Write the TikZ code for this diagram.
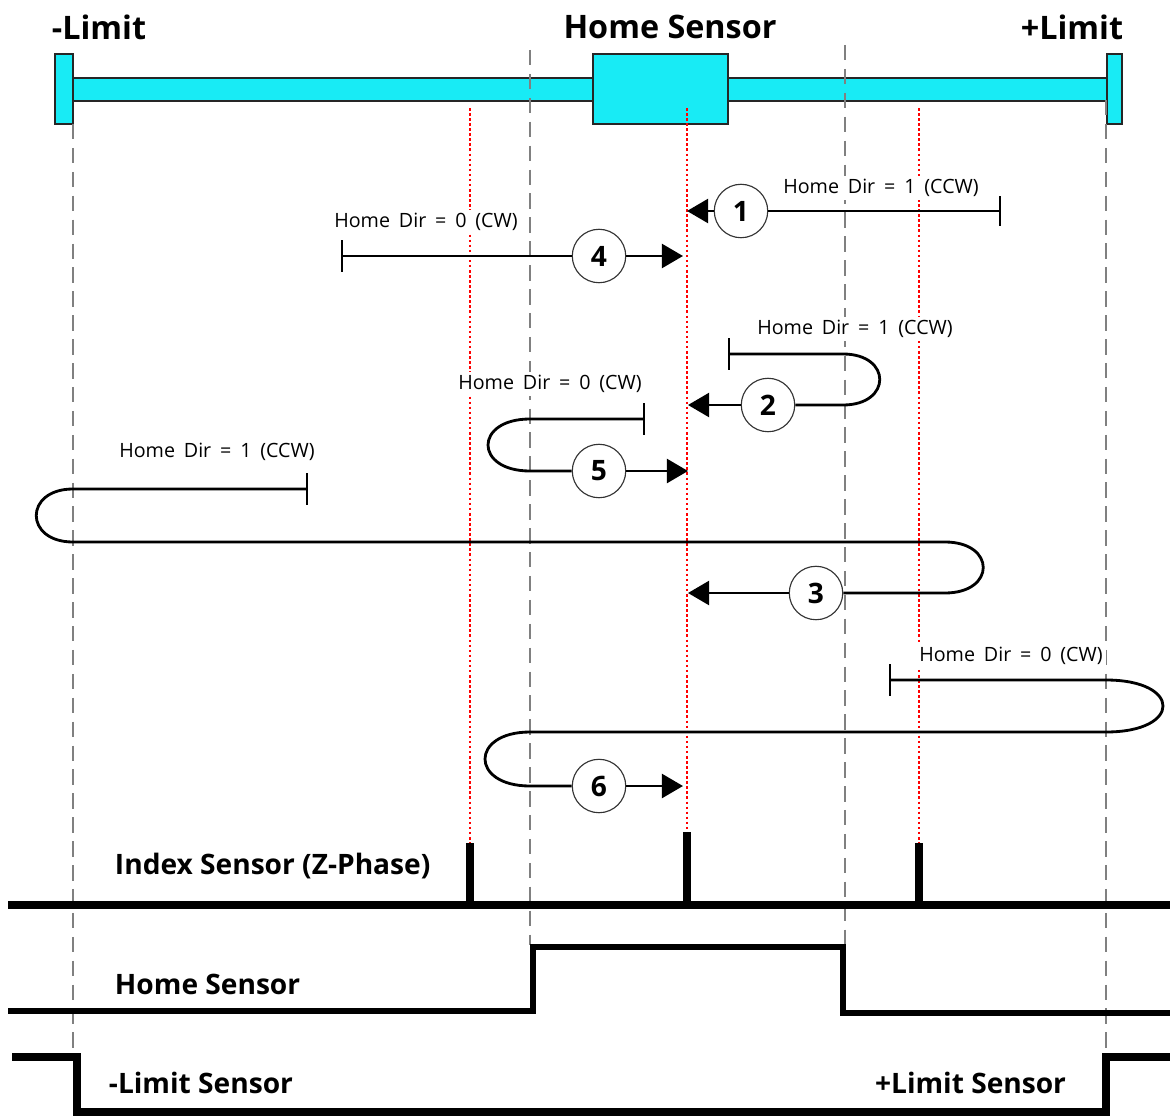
\documentclass[tikz,border=0pt]{standalone}
\usepackage{fontspec}
\setmainfont{Open Sans}
\usepackage{tikz}
\usetikzlibrary{arrows.meta, positioning}
\definecolor{ccyan}{RGB}{24,235,245}
\definecolor{cdash}{RGB}{128,128,128}
\definecolor{cdot} {RGB}{255,0,0}
\newcommand{\dirfont}{\fontsize{14}{16}\selectfont\spaceskip=0.45em\relax}
\tikzset{
  rail/.style={draw=black!85, fill=ccyan, line width=0.9pt},
  limline/.style={draw=cdash, line width=1.5pt, dash pattern=on 11pt off 6pt},
  zline/.style={draw=cdot, line width=2pt, dash pattern=on 1.8pt off 1.8pt},
  move/.style={line width=2pt},
  arr/.style={move, -{Triangle[length=15pt, width=17pt]}},
  stepno/.style={circle, draw=black!80, fill=white, line width=0.8pt,
                 minimum size=38pt, inner sep=0pt,
                 font=\fontsize{20}{20}\selectfont\bfseries},
  dirlbl/.style={fill=white, inner sep=2pt, font=\dirfont},
  titlbl/.style={font=\fontsize{23}{26}\selectfont\bfseries},
  siglbl/.style={font=\fontsize{20}{24}\selectfont\bfseries},
  sig/.style={line width=5pt, miter limit=4},
}

\begin{document}
\begin{tikzpicture}[x=0.025cm, y=-0.025cm]
  \useasboundingbox (0,0) rectangle (1170,1117);

  % ── Rail ───────────────────────────────────────────────────────────────────
  \draw[rail] (72,78) rectangle (1108,101);
  \draw[rail] (55,54) rectangle (73,124);
  \draw[rail] (1107,54) rectangle (1122,124);
  \draw[rail] (593,54) rectangle (728,124);

  \node[titlbl] (tneg)  at (99,27)   {-Limit};
  \node[titlbl] (thome) at (670,27)  {Home Sensor};
  \node[titlbl] (tpos)  at (1072,27) {+Limit};

  % ── Reference lines ────────────────────────────────────────────────────────
  \draw[limline] (73,124)  -- (73,1050);
  \draw[limline] (530,50)  -- (530,945);
  \draw[limline] (845,45)  -- (845,945);
  \draw[limline] (1106,100) -- (1106,1050);
  \draw[zline] (470,108) -- (470,843);
  \draw[zline] (687,108) -- (687,832);
  \draw[zline] (919,108) -- (919,843);

  % ── Moves ──────────────────────────────────────────────────────────────────
  % 1
  \coordinate (s1) at (1000,211);
  \coordinate (e1) at (687,211);
  \node[stepno] (n1) at (741,211) {1};
  \node[dirlbl] (d1) at (881,188) {Home Dir = 1 (CCW)};
  \draw[move] (s1) ++(0,-15) -- ++(0,30);
  \draw[move] (s1) -- (n1);
  \draw[arr]  (n1) -- (e1);

  % 4
  \coordinate (s4) at (342,256);
  \coordinate (e4) at (683,256);
  \node[stepno] (n4) at (599,256) {4};
  \node[dirlbl] (d4) at (426,222) {Home Dir = 0 (CW)};
  \draw[move] (s4) ++(0,-16) -- ++(0,32);
  \draw[move] (s4) -- (n4);
  \draw[arr]  (n4) -- (e4);

  % 2
  \coordinate (s2)  at (729,354);
  \coordinate (u2a) at (843,354);
  \coordinate (u2b) at (843,405);
  \coordinate (e2)  at (688,405);
  \node[stepno] (n2) at (768,405) {2};
  \node[dirlbl] (d2) at (855,329) {Home Dir = 1 (CCW)};
  \draw[move] (s2) ++(0,-16) -- ++(0,32);
  \draw[move] (s2) -- (u2a) .. controls +(49,0) and +(49,0) .. (u2b) -- (n2);
  \draw[arr]  (n2) -- (e2);

  % 5
  \coordinate (s5)  at (644,419);
  \coordinate (u5a) at (530,419);
  \coordinate (u5b) at (530,471);
  \coordinate (e5)  at (688,471);
  \node[stepno] (n5) at (599,471) {5};
  \node[dirlbl] (d5) at (550,384) {Home Dir = 0 (CW)};
  \draw[move] (s5) ++(0,-16) -- ++(0,32);
  \draw[move] (s5) -- (u5a) .. controls +(-56,0) and +(-56,0) .. (u5b) -- (n5);
  \draw[arr]  (n5) -- (e5);

  % 3
  \coordinate (s3)  at (307,489);
  \coordinate (u3a) at (73,489);
  \coordinate (u3b) at (73,542);
  \coordinate (u3c) at (945,542);
  \coordinate (u3d) at (945,593);
  \coordinate (e3)  at (688,593);
  \node[stepno] (n3) at (816,593) {3};
  \node[dirlbl] (d3) at (217,452) {Home Dir = 1 (CCW)};
  \draw[move] (s3) ++(0,-16) -- ++(0,32);
  \draw[move] (s3) -- (u3a) .. controls +(-49,0) and +(-49,0) .. (u3b)
              -- (u3c) .. controls +(51,0) and +(51,0) .. (u3d) -- (n3);
  \draw[arr]  (n3) -- (e3);

  % 6
  \coordinate (s6)  at (890,680);
  \coordinate (u6a) at (1106,680);
  \coordinate (u6b) at (1106,732);
  \coordinate (u6c) at (530,732);
  \coordinate (u6d) at (530,786);
  \coordinate (e6)  at (683,786);
  \node[stepno] (n6) at (599,786) {6};
  \node[dirlbl] (d6) at (1011,656) {Home Dir = 0 (CW)};
  \draw[move] (s6) ++(0,-16) -- ++(0,32);
  \draw[move] (s6) -- (u6a) .. controls +(76,0) and +(76,0) .. (u6b)
              -- (u6c) .. controls +(-60,0) and +(-60,0) .. (u6d) -- (n6);
  \draw[arr]  (n6) -- (e6);

  % ── Signals ────────────────────────────────────────────────────────────────
  \draw[sig] (8,905) -- (1170,905);
  \draw[sig] (470,843) -- (470,905);
  \draw[sig] (687,832) -- (687,905);
  \draw[sig] (919,843) -- (919,905);
  \draw[sig, line width=4.5pt] (8,1011) -- (533,1011) -- (533,947)
        -- (843,947) -- (843,1013) -- (1170,1013);
  \draw[sig] (12,1057) -- (77,1057) -- (77,1112) -- (1106,1112)
        -- (1106,1057) -- (1170,1057);

  \node[siglbl, anchor=west] (lidx)  at (110,866)  {Index Sensor (Z-Phase)};
  \node[siglbl, anchor=west] (lhome) at (110,984)  {Home Sensor};
  \node[siglbl, anchor=west] (lneg)  at (104,1083) {-Limit Sensor};
  \node[siglbl, anchor=east] (lpos)  at (1071,1083) {+Limit Sensor};
\end{tikzpicture}
\end{document}
